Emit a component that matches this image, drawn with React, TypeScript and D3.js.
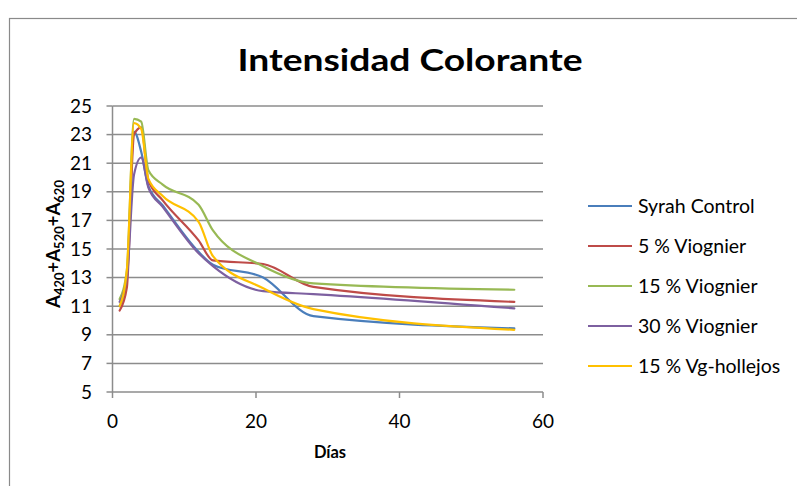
import React from "react";
import * as d3 from "d3";

// Sampling days (x) and colour intensity per treatment (y)
const days = [1, 2, 3, 4, 5, 7, 12, 14, 21, 28, 56];
const syrahControl = [11.0, 13.0, 23.2, 21.8, 19.4, 18.05, 14.8, 13.9, 13.0, 10.3, 9.45];
const viognier5 = [10.7, 12.3, 23.0, 23.5, 19.8, 18.4, 15.6, 14.2, 13.95, 12.35, 11.3];
const viognier15 = [11.5, 13.5, 24.1, 23.9, 20.5, 19.5, 18.1, 16.3, 13.8, 12.6, 12.15];
const viognier30 = [11.3, 13.0, 20.2, 21.4, 19.3, 17.95, 14.7, 13.8, 12.05, 11.85, 10.85];
const vgHollejos = [11.0, 13.5, 23.8, 23.4, 19.9, 18.7, 16.9, 14.5, 12.25, 10.8, 9.35];

const seriesNames = ["Syrah Control", "5 % Viognier", "15 % Viognier", "30 % Viognier", "15 % Vg-hollejos"];
const seriesValues = [syrahControl, viognier5, viognier15, viognier30, vgHollejos];
const seriesColors = ["#4A7EBB", "#BE4B48", "#98B954", "#7D60A0", "#FFC000"];

const xTicks = [0, 20, 40, 60];
const yTicks = [5, 7, 9, 11, 13, 15, 17, 19, 21, 23, 25];

const W = 797;
const H = 486;
const FONT = "Lato, 'Open Sans', sans-serif";
const GRID = "#8c8c8c";

export default function App() {
  const x = d3.scaleLinear().domain([0, 60]).range([112.5, 543]);
  const y = d3.scaleLinear().domain([5, 25]).range([392, 106]);

  const line = d3
    .line<[number, number]>()
    .x((d) => x(d[0]))
    .y((d) => y(d[1]))
    .curve(d3.curveMonotoneX);

  const legendX = 588;
  const legendY0 = 206;
  const legendStep = 40;

  return (
    <svg
      width={W}
      height={H}
      viewBox={`0 0 ${W} ${H}`}
      style={{ position: "absolute", left: 0, top: 0, background: "#fff" }}
    >
      {/* chart frame */}
      <rect x={9.5} y={18.5} width={W + 20} height={H + 20} fill="#fff" stroke="#8a8a8a" strokeWidth={1.2} />

      {/* title */}
      <text
        x={410}
        y={71}
        textAnchor="middle"
        fontFamily={FONT}
        fontWeight={700}
        fontSize={31}
        textLength={345}
        lengthAdjust="spacingAndGlyphs"
        fill="#000"
      >
        Intensidad Colorante
      </text>

      {/* horizontal gridlines */}
      {yTicks.map((t) => (
        <line key={`g${t}`} x1={x(0)} x2={x(60)} y1={y(t)} y2={y(t)} stroke={GRID} strokeWidth={1.5} />
      ))}
      {/* y axis line and ticks */}
      <line x1={x(0)} x2={x(0)} y1={y(25)} y2={y(5)} stroke={GRID} strokeWidth={1.5} />
      {yTicks.map((t) => (
        <line key={`yt${t}`} x1={x(0) - 6} x2={x(0)} y1={y(t)} y2={y(t)} stroke={GRID} strokeWidth={1.5} />
      ))}
      {/* x axis ticks */}
      {xTicks.map((t) => (
        <line key={`xt${t}`} x1={x(t)} x2={x(t)} y1={y(5)} y2={y(5) + 6} stroke={GRID} strokeWidth={1.5} />
      ))}

      {/* tick labels */}
      {yTicks.map((t) => (
        <text
          key={`yl${t}`}
          x={92}
          y={y(t)}
          dy="0.35em"
          textAnchor="end"
          fontFamily={FONT}
          fontSize={19}
          fill="#000"
        >
          {t}
        </text>
      ))}
      {xTicks.map((t) => (
        <text
          key={`xl${t}`}
          x={x(t)}
          y={428}
          textAnchor="middle"
          fontFamily={FONT}
          fontSize={19}
          fill="#000"
        >
          {t}
        </text>
      ))}

      {/* axis titles */}
      <text x={330} y={458} textAnchor="middle" fontFamily={FONT} fontWeight={700} fontSize={16.5} fill="#000">
        Días
      </text>
      <text
        transform={`translate(60, ${(y(25) + y(5)) / 2 - 5}) rotate(-90)`}
        textAnchor="middle"
        fontFamily={FONT}
        fontWeight={700}
        fontSize={18.5}
        fill="#000"
      >
        A<tspan fontSize={13} dy={4}>420</tspan>
        <tspan dy={-4}>+A</tspan>
        <tspan fontSize={13} dy={4}>520</tspan>
        <tspan dy={-4}>+A</tspan>
        <tspan fontSize={13} dy={4}>620</tspan>
      </text>

      {/* series */}
      {seriesValues.map((vals, i) => (
        <path
          key={seriesNames[i]}
          d={line(days.map((d, j) => [d, vals[j]] as [number, number])) || ""}
          fill="none"
          stroke={seriesColors[i]}
          strokeWidth={2.2}
          strokeLinejoin="round"
          strokeLinecap="round"
        />
      ))}

      {/* legend */}
      {seriesNames.map((name, i) => {
        const ly = legendY0 + i * legendStep;
        return (
          <g key={`lg${name}`}>
            <line x1={legendX} x2={legendX + 44} y1={ly} y2={ly} stroke={seriesColors[i]} strokeWidth={2.2} />
            <text x={legendX + 50} y={ly} dy="0.35em" fontFamily={FONT} fontSize={19.5} fill="#000">
              {name}
            </text>
          </g>
        );
      })}
    </svg>
  );
}
